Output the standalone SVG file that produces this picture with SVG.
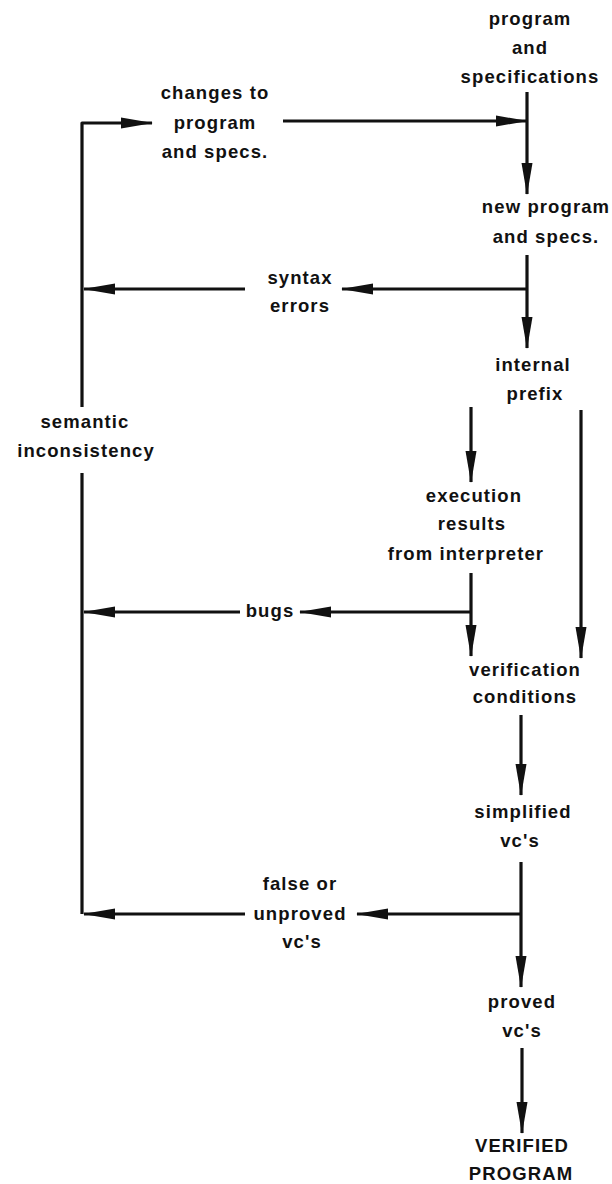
<svg xmlns="http://www.w3.org/2000/svg" width="612" height="1184" viewBox="0 0 612 1184">
<style>
  text { font-family: "Liberation Sans", Arial, sans-serif; font-weight: bold; font-size: 18.5px; letter-spacing: 1.1px; fill: #111; text-anchor: middle; }
  .ln { fill: none; stroke: #111; stroke-width: 3.2; stroke-linejoin: round; }
</style>
<defs>
  <marker id="ah" markerUnits="userSpaceOnUse" markerWidth="32" markerHeight="12" refX="31" refY="6" orient="auto">
    <path d="M0,0.5 L32,6 L0,11.5 Z" fill="#111"/>
  </marker>
</defs>
<rect width="612" height="1184" fill="#fff"/>
<g id="connectors">
  <path class="ln" d="M82,407 V123 H152" marker-end="url(#ah)"/>
  <path class="ln" d="M82,473 V914"/>
  <path class="ln" d="M283,121 H527" marker-end="url(#ah)"/>
  <path class="ln" d="M527,92 V194" marker-end="url(#ah)"/>
  <path class="ln" d="M527,255 V348" marker-end="url(#ah)"/>
  <path class="ln" d="M527,289 H342" marker-end="url(#ah)"/>
  <path class="ln" d="M245,289 H84" marker-end="url(#ah)"/>
  <path class="ln" d="M471,407 V482" marker-end="url(#ah)"/>
  <path class="ln" d="M581,410 V658" marker-end="url(#ah)"/>
  <path class="ln" d="M471,573 V656" marker-end="url(#ah)"/>
  <path class="ln" d="M471,612 H300" marker-end="url(#ah)"/>
  <path class="ln" d="M240,612 H84" marker-end="url(#ah)"/>
  <path class="ln" d="M521,715 V795" marker-end="url(#ah)"/>
  <path class="ln" d="M521,862 V987" marker-end="url(#ah)"/>
  <path class="ln" d="M521,914 H357" marker-end="url(#ah)"/>
  <path class="ln" d="M245,914 H84" marker-end="url(#ah)"/>
  <path class="ln" d="M522,1048 V1133" marker-end="url(#ah)"/>
</g>
<g id="n-program-specs">
  <text x="530" y="25">program</text>
  <text x="530" y="54">and</text>
  <text x="530" y="83">specifications</text>
</g>
<g id="n-changes">
  <text x="215" y="99">changes to</text>
  <text x="215" y="129">program</text>
  <text x="215" y="158">and specs.</text>
</g>
<g id="n-new-program">
  <text x="546" y="213">new program</text>
  <text x="546" y="243">and specs.</text>
</g>
<g id="n-syntax">
  <text x="300" y="284">syntax</text>
  <text x="300" y="312">errors</text>
</g>
<g id="n-internal">
  <text x="533" y="371">internal</text>
  <text x="535" y="400">prefix</text>
</g>
<g id="n-semantic">
  <text x="85" y="428">semantic</text>
  <text x="86" y="457">inconsistency</text>
</g>
<g id="n-execution">
  <text x="474" y="502">execution</text>
  <text x="472" y="530">results</text>
  <text x="466" y="560">from interpreter</text>
</g>
<g id="n-bugs">
  <text x="270" y="617">bugs</text>
</g>
<g id="n-verification">
  <text x="525" y="676">verification</text>
  <text x="525" y="703">conditions</text>
</g>
<g id="n-simplified">
  <text x="523" y="818">simplified</text>
  <text x="520" y="847">vc's</text>
</g>
<g id="n-false">
  <text x="300" y="890">false or</text>
  <text x="300" y="920">unproved</text>
  <text x="302" y="948">vc's</text>
</g>
<g id="n-proved">
  <text x="522" y="1008">proved</text>
  <text x="522" y="1037">vc's</text>
</g>
<g id="n-verified">
  <text x="522" y="1152">VERIFIED</text>
  <text x="521" y="1180">PROGRAM</text>
</g>
</svg>
